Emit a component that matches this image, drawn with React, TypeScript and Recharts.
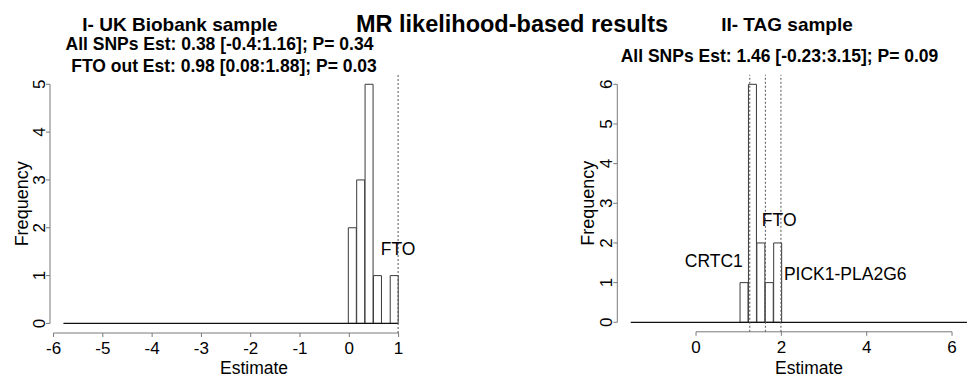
import React from 'react';
import {
  ComposedChart,
  Bar,
  XAxis,
  YAxis,
  ReferenceLine,
  ReferenceDot,
} from 'recharts';

// UK Biobank: histogram of per-SNP estimates
const ukBinMids = [0.065, 0.235, 0.405, 0.575, 0.745, 0.915];
const ukCounts = [2, 3, 5, 1, 0, 1];
const ukHistRange = [-5.8, 0.99];
const ukXTicks = [-6, -5, -4, -3, -2, -1, 0, 1];
const ukYTicks = [0, 1, 2, 3, 4, 5];
const ukGenes = ['FTO'];
const ukGeneEstimates = [0.99];

// TAG consortium
const tagBinMids = [1.13, 1.327, 1.524, 1.721, 1.918];
const tagCounts = [1, 6, 2, 1, 2];
const tagHistRange = [-1.53, 6.35];
const tagXTicks = [0, 2, 4, 6];
const tagYTicks = [0, 1, 2, 3, 4, 5, 6];
const tagGenes = ['CRTC1', 'FTO', 'PICK1-PLA2G6'];
const tagGeneEstimates = [1.26, 1.625, 1.99];

const mainTitle = 'MR likelihood-based results';
const ukTitle = 'I- UK Biobank sample';
const ukStats = ['All SNPs Est: 0.38 [-0.4:1.16]; P= 0.34', 'FTO out Est: 0.98 [0.08:1.88]; P= 0.03'];
const tagTitle = 'II- TAG sample';
const tagStats = ['All SNPs Est: 1.46 [-0.23:3.15]; P= 0.09'];

const FONT = '"Liberation Sans", Arial, Helvetica, sans-serif';
const AXIS_GREY = '#7a7a7a';

// where each gene name sits next to its dotted line
const ukLabelPlacement = [{ y: 1.57, position: 'center', offset: 0 }];
const tagLabelPlacement = [
  { y: 1.55, position: 'left', offset: 7 },
  { y: 2.58, position: 'right', offset: -3.5 },
  { y: 1.235, position: 'right', offset: 3 },
];

const YTick = (props: any) => {
  const { x, y, payload } = props;
  return (
    <text
      transform={`translate(${x + 1},${y}) rotate(-90)`}
      textAnchor="middle"
      fontSize={17}
      fontFamily={FONT}
      fill="#000"
    >
      {payload.value}
    </text>
  );
};

interface PanelProps {
  width: number;
  height: number;
  margin: { top: number; right: number; bottom: number; left: number };
  xDomain: [number, number];
  yDomain: [number, number];
  mids: number[];
  counts: number[];
  histRange: number[];
  xTicks: number[];
  yTicks: number[];
  genes: string[];
  estimates: number[];
  placement: { y: number; position: string; offset: number }[];
  xTickMargin: number;
  xLabelShift: [number, number];
  yLabelShift: number;
}

const HistPanel: React.FC<PanelProps> = (p) => {
  const data = p.mids.map((mid, i) => ({ mid, count: p.counts[i] }));
  const x0 = p.xTicks[0];
  const x1 = p.xTicks[p.xTicks.length - 1];
  const y0 = p.yTicks[0];
  const y1 = p.yTicks[p.yTicks.length - 1];

  return (
    <ComposedChart
      width={p.width}
      height={p.height}
      data={data}
      margin={p.margin}
      barCategoryGap={0}
      barGap={0}
    >
      <XAxis
        dataKey="mid"
        type="number"
        domain={p.xDomain}
        ticks={p.xTicks}
        height={30}
        axisLine={false}
        tickSize={4}
        tickMargin={p.xTickMargin}
        tickLine={{ stroke: AXIS_GREY }}
        tick={{ fill: '#000', fontSize: 17, fontFamily: FONT }}
        interval={0}
        label={{
          value: 'Estimate',
          position: 'center',
          dx: p.xLabelShift[0],
          dy: p.xLabelShift[1],
          fontSize: 17.5,
          fontFamily: FONT,
          fill: '#000',
        }}
      />
      <YAxis
        type="number"
        domain={p.yDomain}
        ticks={p.yTicks}
        width={50}
        axisLine={false}
        tickSize={4}
        tickMargin={2}
        tickLine={{ stroke: AXIS_GREY }}
        tick={<YTick />}
        interval={0}
        label={{
          value: 'Frequency',
          position: 'center',
          angle: -90,
          dx: p.yLabelShift,
          fontSize: 18,
          fontFamily: FONT,
          fill: '#000',
        }}
      />
      <Bar
        dataKey="count"
        fill="#fff"
        stroke="#3a3a3a"
        strokeWidth={1}
        isAnimationActive={false}
      />
      {/* zero-count bins collapse onto the baseline */}
      <ReferenceLine
        segment={[
          { x: p.histRange[0], y: 0 },
          { x: p.histRange[1], y: 0 },
        ]}
        stroke="#111"
        strokeWidth={1.2}
        ifOverflow="visible"
      />
      {/* R-style axes: lines only span first to last tick */}
      <ReferenceLine
        segment={[
          { x: x0, y: p.yDomain[0] },
          { x: x1, y: p.yDomain[0] },
        ]}
        stroke={AXIS_GREY}
        ifOverflow="visible"
      />
      <ReferenceLine
        segment={[
          { x: p.xDomain[0], y: y0 },
          { x: p.xDomain[0], y: y1 },
        ]}
        stroke={AXIS_GREY}
        ifOverflow="visible"
      />
      {p.estimates.map((est, i) => (
        <ReferenceLine
          key={`line-${p.genes[i]}`}
          x={est}
          stroke="#555"
          strokeDasharray="2 2"
          ifOverflow="visible"
        />
      ))}
      {p.estimates.map((est, i) => (
        <ReferenceDot
          key={`lab-${p.genes[i]}`}
          x={est}
          y={p.placement[i].y}
          r={0}
          fill="none"
          stroke="none"
          ifOverflow="visible"
          label={{
            value: p.genes[i],
            position: p.placement[i].position as any,
            offset: p.placement[i].offset,
            fontSize: 17.5,
            fontFamily: FONT,
            fill: '#000',
          }}
        />
      ))}
    </ComposedChart>
  );
};

const App: React.FC = () => {
  return (
    <div
      style={{
        position: 'absolute',
        left: 0,
        top: 0,
        width: 968,
        height: 377,
        background: '#fff',
        overflow: 'hidden',
      }}
    >
      <div style={{ position: 'absolute', left: 0, top: 0 }}>
        <HistPanel
          width={480}
          height={377}
          margin={{ top: 74.7, right: 68, bottom: 14, left: 0 }}
          xDomain={[-6.072, 1.272]}
          yDomain={[-0.2, 5.2]}
          mids={ukBinMids}
          counts={ukCounts}
          histRange={ukHistRange}
          xTicks={ukXTicks}
          yTicks={ukYTicks}
          genes={ukGenes}
          estimates={ukGeneEstimates}
          placement={ukLabelPlacement}
          xTickMargin={5}
          xLabelShift={[23, 20]}
          yLabelShift={-3.4}
        />
      </div>
      <div style={{ position: 'absolute', left: 480, top: 0 }}>
        <HistPanel
          width={488}
          height={377}
          margin={{ top: 74.8, right: 0, bottom: 15.2, left: 87.3 }}
          xDomain={[-1.845, 6.374]}
          yDomain={[-0.24, 6.24]}
          mids={tagBinMids}
          counts={tagCounts}
          histRange={tagHistRange}
          xTicks={tagXTicks}
          yTicks={tagYTicks}
          genes={tagGenes}
          estimates={tagGeneEstimates}
          placement={tagLabelPlacement}
          xTickMargin={5}
          xLabelShift={[16.4, 21]}
          yLabelShift={-4.3}
        />
      </div>
      <svg
        width={968}
        height={80}
        style={{ position: 'absolute', left: 0, top: 0, pointerEvents: 'none' }}
        fontFamily={FONT}
        fontWeight="bold"
        fill="#000"
      >
        <text x={512} y={31.7} textAnchor="middle" fontSize={23.5}>
          {mainTitle}
        </text>
        <text x={180} y={30.7} textAnchor="middle" fontSize={19}>
          {ukTitle}
        </text>
        <text x={219.5} y={49.5} textAnchor="middle" fontSize={17.5}>
          {ukStats[0]}
        </text>
        <text x={224} y={71.7} textAnchor="middle" fontSize={17.5}>
          {ukStats[1]}
        </text>
        <text x={787} y={30.7} textAnchor="middle" fontSize={19}>
          {tagTitle}
        </text>
        <text x={779.5} y={61.7} textAnchor="middle" fontSize={17.5}>
          {tagStats[0]}
        </text>
      </svg>
    </div>
  );
};

export default App;
